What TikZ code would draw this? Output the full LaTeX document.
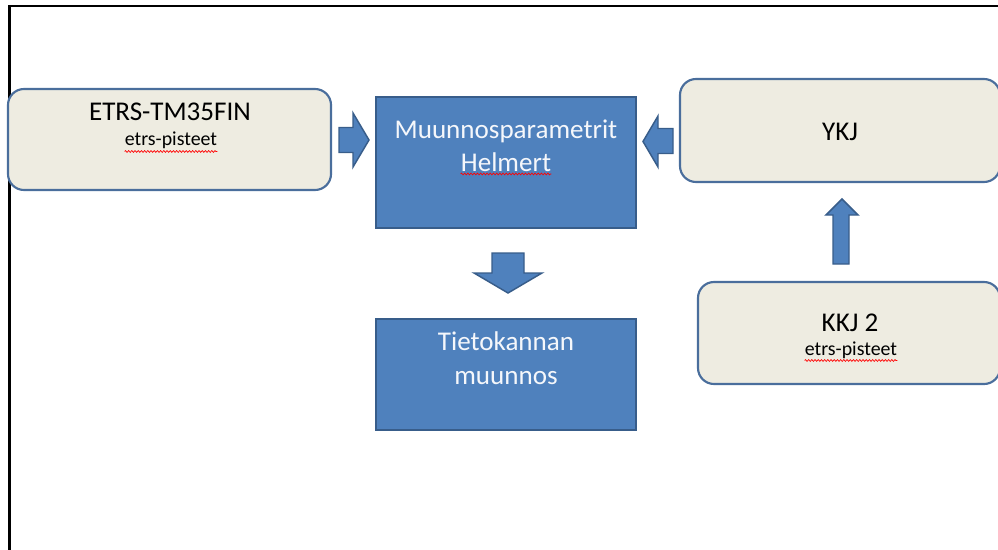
\documentclass[tikz,border=0pt]{standalone}
\usepackage{fontspec}
\setmainfont{Carlito}
\usetikzlibrary{decorations.pathmorphing}
\definecolor{beigeF}{HTML}{EEECE1}
\definecolor{blueF}{HTML}{4F81BD}
\definecolor{blueD}{HTML}{385D8A}
\definecolor{blueB}{HTML}{4A6E9C}
\tikzset{
  beigebox/.style={draw=blueB, fill=beigeF, line width=1.6pt, rounded corners=12pt, inner sep=0pt},
  bluebox/.style={draw=blueD, fill=blueF, line width=1.6pt, inner sep=0pt},
  blockarrow/.style={draw=blueD, fill=blueF, line width=1.1pt, line join=miter},
  bigtxt/.style={font=\fontsize{20.3}{23}\selectfont, inner sep=0pt, anchor=base},
  smalltxt/.style={font=\fontsize{14.9}{17}\selectfont, inner sep=0pt, anchor=base},
  whitetxt/.style={text=white!94!blueF},
  squiggle/.style={draw=red, line width=0.5pt, decorate, decoration={zigzag, segment length=2.4pt, amplitude=0.7pt}},
  frameline/.style={draw=black, line width=1.6pt}
}
\begin{document}
\begin{tikzpicture}[x=0.75pt, y=-0.75pt]
\useasboundingbox (0,0) rectangle (998,549);
\clip (0,0) rectangle (998,549);
% frame
\draw[frameline] (9.5,560) -- (9.5,6) -- (1005,6);
% boxes
\node[beigebox, minimum width=242.25pt, minimum height=75.75pt] (etrs) at (169.5,139.5) {};
\node[bluebox, minimum width=195pt, minimum height=98.25pt] (param) at (506,162.5) {};
\node[bluebox, minimum width=195pt, minimum height=83.25pt] (tieto) at (506,374.5) {};
\node[beigebox, minimum width=240pt, minimum height=77.25pt] (ykj) at (840,130.5) {};
\node[beigebox, minimum width=226.5pt, minimum height=76.5pt] (kkj) at (849,333) {};
% texts
\node[bigtxt] (etrsT) at (170,121) {ETRS-TM35FIN};
\node[smalltxt] (etrsS) at (171,146) {etrs-pisteet};
\node[bigtxt, whitetxt] (paramT) at (506,138.5) {Muunnosparametrit};
\node[bigtxt, whitetxt] (paramS) at (506,171.5) {Helmert};
\node[bigtxt, whitetxt] (tietoT) at (506,350.5) {Tietokannan};
\node[bigtxt, whitetxt] (tietoS) at (506,384) {muunnos};
\node[bigtxt] (ykjT) at (840,140.5) {YKJ};
\node[bigtxt] (kkjT) at (850,331.5) {KKJ 2};
\node[smalltxt] (kkjS) at (851,355) {etrs-pisteet};
% spell-check squiggles
\path[squiggle] ([yshift=-1.5pt]etrsS.south west) -- ([yshift=-1.5pt]etrsS.south east);
\path[squiggle] ([yshift=-1.5pt]paramS.south west) -- ([yshift=-1.5pt]paramS.south east);
\path[squiggle] ([yshift=-1.5pt]kkjS.south west) -- ([yshift=-1.5pt]kkjS.south east);
% block arrows
\path[blockarrow] (339,127.5) -- (353,127.5) -- (353,113) -- (369,140) -- (353,167) -- (353,152.5) -- (339,152.5) -- cycle;
\path[blockarrow] (673,128.5) -- (658,128.5) -- (658,116) -- (643,141.5) -- (658,167) -- (658,153.5) -- (673,153.5) -- cycle;
\path[blockarrow] (492,253) -- (524,253) -- (524,273) -- (542,273) -- (508,293) -- (474,273) -- (492,273) -- cycle;
\path[blockarrow] (833,264) -- (833,215) -- (826,215) -- (842,199) -- (858,215) -- (849,215) -- (849,264) -- cycle;
\end{tikzpicture}
\end{document}
